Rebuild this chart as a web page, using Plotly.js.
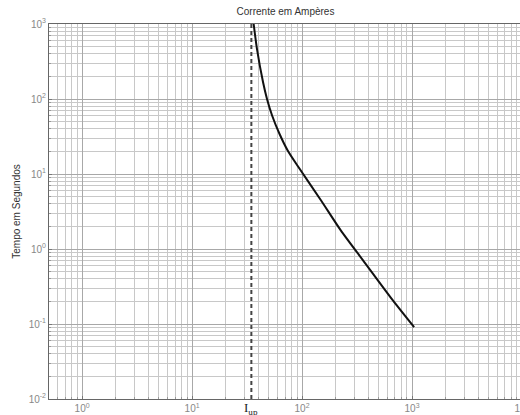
<!DOCTYPE html>
<html>
<head>
<meta charset="utf-8">
<script src="https://cdn.plot.ly/plotly-3.0.1.min.js"></script>
<style>
html,body{margin:0;padding:0;overflow:hidden;background:#fff;width:520px;height:415px;}
#chart{width:540px;height:415px;}
</style>
</head>
<body>
<div id="chart"></div>
<script>
// Curve (current in A, time in s)
const current = [36.3, 38.9, 44.2, 48.0, 53.4, 62.3, 74.0, 93.0, 149, 225, 360, 670, 1045];
const timeSec = [1000, 467, 167, 100, 60.3, 34.4, 20.6, 12.3, 4.43, 1.77, 0.70, 0.206, 0.0906];
// Pickup current (dashed line)
const Iup = 34.6;
const iupY = [0.01, 1000];
// Tick labels
const xTickVals = [1, 10, 100, 1000, 10000];
const xTickText = ["10<sup>0</sup>", "10<sup>1</sup>", "10<sup>2</sup>", "10<sup>3</sup>", "10<sup>4</sup>"];
const yTickVals = [0.01, 0.1, 1, 10, 100, 1000];
const yTickText = ["10<sup>-2</sup>", "10<sup>-1</sup>", "10<sup>0</sup>", "10<sup>1</sup>", "10<sup>2</sup>", "10<sup>3</sup>"];

const traces = [
  {x: [Iup, Iup], y: iupY, mode: 'lines', line: {color: '#444', width: 2, dash: '4px,3px'}, hoverinfo: 'skip'},
  {x: current, y: timeSec, mode: 'lines', line: {color: '#111', width: 2, shape: 'spline', smoothing: 0.7}}
];

const axisCommon = {
  type: 'log',
  showline: true, mirror: true, linecolor: '#666', linewidth: 1,
  showgrid: true, gridcolor: '#a8a8a8', gridwidth: 1,
  ticks: 'inside', ticklen: 3, tickcolor: '#777',
  tickmode: 'array',
  tickfont: {family: 'Liberation Sans, Arial, sans-serif', size: 10, color: '#888'},
  zeroline: false,
  minor: {dtick: 'D1', showgrid: true, gridcolor: '#c8c8c8', gridwidth: 1, ticks: 'inside', ticklen: 2, tickcolor: '#999'}
};

const layout = {
  width: 540, height: 415,
  margin: {l: 49, r: 18, t: 24, b: 16},
  paper_bgcolor: '#fff', plot_bgcolor: '#fff',
  showlegend: false,
  font: {family: 'Liberation Sans, Arial, sans-serif', size: 10, color: '#333'},
  title: {text: 'Corrente em Ampères', x: 0.5, xref: 'paper', xanchor: 'center', y: 1 - 11/415, yref: 'container', yanchor: 'middle',
          font: {family: 'Liberation Sans, Arial, sans-serif', size: 10, color: '#333'}},
  xaxis: Object.assign({}, axisCommon, {
    range: [Math.log10(0.5), 4],
    tickvals: xTickVals, ticktext: xTickText,
    ticklabelstandoff: 0
  }),
  yaxis: Object.assign({}, axisCommon, {
    range: [-2, 3],
    tickvals: yTickVals, ticktext: yTickText,
    title: {text: 'Tempo em Segundos', standoff: 6, font: {family: 'Liberation Sans, Arial, sans-serif', size: 10, color: '#333'}}
  }),
  annotations: [
    {x: Math.log10(Iup), xref: 'x', y: 0, yref: 'paper', yanchor: 'top', yshift: 1, showarrow: false,
     text: 'I<sub>up</sub>', font: {family: 'Liberation Serif, DejaVu Serif, serif', size: 13, color: '#222'}}
  ]
};

Plotly.newPlot('chart', traces, layout, {displayModeBar: false, staticPlot: true});
</script>
</body>
</html>
